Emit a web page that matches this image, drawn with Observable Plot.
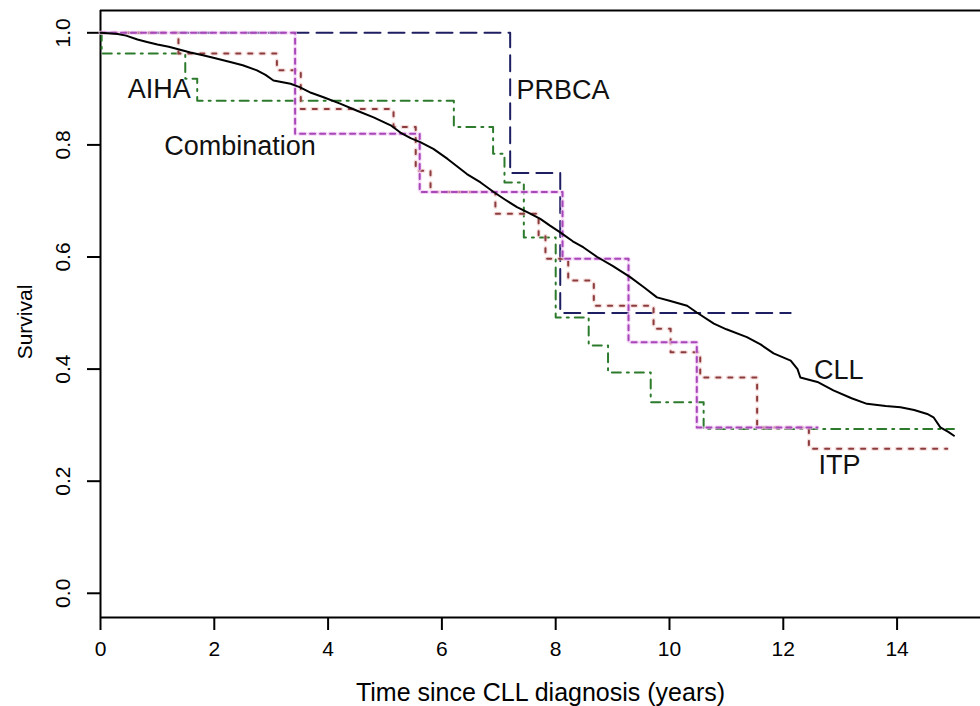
<!DOCTYPE html>
<html><head><meta charset="utf-8">
<script src="https://cdn.jsdelivr.net/npm/d3@7"></script>
<script src="https://cdn.jsdelivr.net/npm/@observablehq/plot@0.6"></script>
<style>
body{margin:0;background:#fff}
g[aria-label="x-axis tick"], g[aria-label="y-axis tick"]{stroke-width:2px}
</style>
</head><body><div id="chart"></div>
<script>
// CLL (all patients)
const cllTime = [0,0.3,0.45,0.65,0.8,1.0,1.2,1.35,1.58,1.8,2.0,2.28,2.5,2.75,2.9,3.04,3.34,3.5,3.7,3.92,4.2,4.51,4.8,5.1,5.27,5.45,5.62,5.85,6.1,6.44,6.68,6.91,7.1,7.32,7.5,7.73,7.9,8.08,8.3,8.49,8.73,9.0,9.31,9.55,9.78,10.0,10.31,10.48,10.78,11.0,11.36,11.6,11.83,12.13,12.25,12.3,12.6,12.88,13.2,13.47,13.8,14.06,14.3,14.53,14.64,14.76,14.9,15.0];
const cllSurv = [1.0,0.998,0.995,0.988,0.984,0.979,0.975,0.971,0.965,0.96,0.955,0.948,0.942,0.933,0.925,0.915,0.909,0.903,0.893,0.885,0.874,0.861,0.849,0.835,0.822,0.812,0.805,0.793,0.775,0.748,0.733,0.716,0.703,0.689,0.68,0.668,0.656,0.644,0.628,0.617,0.6,0.584,0.564,0.546,0.528,0.522,0.513,0.501,0.481,0.471,0.457,0.444,0.428,0.415,0.4,0.385,0.377,0.362,0.348,0.338,0.334,0.332,0.327,0.32,0.314,0.296,0.288,0.281];

// PRBCA
const prbcaTime = [0,7.2,8.08,12.13];
const prbcaSurv = [1.0,0.75,0.5,0.5];

// AIHA
const aihaTime = [0,0.02,1.49,1.7,6.21,6.9,7.1,7.44,8.0,8.58,8.92,9.67,10.6,15.0];
const aihaSurv = [1.0,0.963,0.918,0.879,0.832,0.784,0.733,0.635,0.492,0.442,0.394,0.341,0.293,0.293];

// ITP
const itpTime = [0,1.37,3.1,3.52,5.15,5.54,5.8,6.94,7.7,7.82,8.22,8.67,9.72,10.02,10.54,11.54,12.45,14.88];
const itpSurv = [1.0,0.963,0.933,0.864,0.832,0.754,0.716,0.677,0.638,0.597,0.558,0.513,0.472,0.43,0.385,0.296,0.258,0.258];

// Combination
const combTime = [0,3.42,5.61,8.12,9.28,10.48,12.6];
const combSurv = [1.0,0.82,0.716,0.597,0.448,0.296,0.296];

// Axis ticks and titles
const xTicks = [0,2,4,6,8,10,12,14];
const yTicks = [0,0.2,0.4,0.6,0.8,1.0];
const xTitle = "Time since CLL diagnosis (years)";
const yTitle = "Survival";

// Curve labels
const labelText = ["AIHA","Combination","PRBCA","CLL","ITP"];
const labelTime = [0.48,1.12,7.31,12.54,12.62];
const labelSurv = [0.899,0.797,0.897,0.397,0.228];

const pts = (ts, ss) => ts.map((t, i) => ({t, s: ss[i]}));
const labels = labelText.map((text, i) => ({text, t: labelTime[i], s: labelSurv[i]}));

const font = "'Liberation Sans', Arial, sans-serif";
const chart = Plot.plot({
  width: 980,
  height: 706,
  marginLeft: 100,
  marginRight: 0,
  marginTop: 10,
  marginBottom: 89,
  x: {domain: [0, 15.466], ticks: xTicks, tickSize: 13, tickPadding: 11, tickFormat: d => String(d), label: null},
  y: {domain: [-0.0432, 1.0398], ticks: yTicks, tickSize: 13, tickPadding: 18, tickFormat: d3.format(".1f"), tickRotate: -90, label: null},
  style: {fontFamily: font, fontSize: "21px", background: "white", color: "black"},
  marks: [
    Plot.ruleX([0], {stroke: "black", strokeWidth: 2}),
    Plot.ruleY([-0.0432, 1.0398], {stroke: "black", strokeWidth: 2}),
    Plot.text([xTitle], {frameAnchor: "bottom", textAnchor: "middle", lineAnchor: "middle", dy: 75, fontSize: 25, text: d => d}),
    Plot.text([yTitle], {frameAnchor: "left", textAnchor: "middle", lineAnchor: "middle", dx: -75, dy: 8, rotate: -90, fontSize: 21, text: d => d}),
    Plot.line(pts(prbcaTime, prbcaSurv), {x: "t", y: "s", curve: "step-after", stroke: "#1e1e62", strokeWidth: 2, strokeDasharray: "16,8"}),
    Plot.line(pts(aihaTime, aihaSurv), {x: "t", y: "s", curve: "step-after", stroke: "#2c7a2c", strokeWidth: 2, strokeDasharray: "9,6,2,6"}),
    Plot.line(pts(itpTime, itpSurv), {x: "t", y: "s", curve: "step-after", stroke: "#ecc4c4", strokeWidth: 4, strokeDasharray: "5,7", strokeOpacity: 0.6}),
    Plot.line(pts(itpTime, itpSurv), {x: "t", y: "s", curve: "step-after", stroke: "#8c3c3c", strokeWidth: 2, strokeDasharray: "4,8", strokeDashoffset: -0.5}),
    Plot.line(pts(combTime, combSurv), {x: "t", y: "s", curve: "step-after", stroke: "#f0c4f4", strokeWidth: 4, strokeDasharray: "6,4", strokeOpacity: 0.7}),
    Plot.line(pts(combTime, combSurv), {x: "t", y: "s", curve: "step-after", stroke: "#a848b8", strokeWidth: 2, strokeDasharray: "5,5", strokeDashoffset: -0.5}),
    Plot.line(pts(cllTime, cllSurv), {x: "t", y: "s", stroke: "black", strokeWidth: 2}),
    Plot.text(labels, {x: "t", y: "s", text: "text", textAnchor: "start", fontSize: 27, fill: "#111"})
  ]
});
document.getElementById("chart").appendChild(chart);
</script>
</body></html>
